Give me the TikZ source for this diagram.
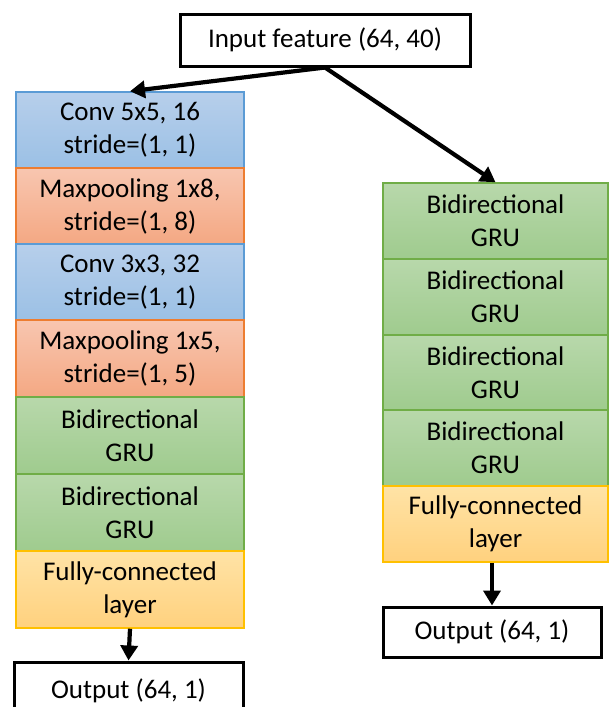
\documentclass[tikz,border=0pt]{standalone}
\usepackage{fontspec}
\setmainfont{Carlito}
\usetikzlibrary{arrows.meta}
\definecolor{bluetop}{HTML}{B7CFEB}
\definecolor{bluebot}{HTML}{9BC0E5}
\definecolor{blueedge}{HTML}{5B9BD5}
\definecolor{orgtop}{HTML}{F8C6B0}
\definecolor{orgbot}{HTML}{F4A883}
\definecolor{orgedge}{HTML}{ED7D31}
\definecolor{grntop}{HTML}{B8D8AB}
\definecolor{grnbot}{HTML}{9FCB8E}
\definecolor{grnedge}{HTML}{70AD47}
\definecolor{ylwtop}{HTML}{FFE3A6}
\definecolor{ylwbot}{HTML}{FFD17E}
\definecolor{ylwedge}{HTML}{FFC000}
\tikzset{
  layer/.style={rectangle, inner sep=0pt, align=center, line width=1.5pt,
    font=\fontsize{27}{33}\selectfont},
  convbox/.style={layer, top color=bluetop, bottom color=bluebot, draw=blueedge},
  poolbox/.style={layer, top color=orgtop, bottom color=orgbot, draw=orgedge},
  grubox/.style={layer, top color=grntop, bottom color=grnbot, draw=grnedge},
  fcbox/.style={layer, top color=ylwtop, bottom color=ylwbot, draw=ylwedge},
  iobox/.style={rectangle, inner sep=0pt, align=center, draw=black, fill=white,
    line width=3pt, font=\fontsize{27}{33}\selectfont},
  arr/.style={line width=4.2pt, -{Triangle[length=15pt,width=17pt]}}
}
\begin{document}
\begin{tikzpicture}[x=1pt,y=-1pt]
\useasboundingbox (0,0) rectangle (608,707);
% input
\node[iobox, minimum width=290pt, minimum height=52pt] (inp) at (325,40) {Input feature (64, 40)};
% left column
\node[convbox, minimum width=228pt, minimum height=76pt] (c1) at (130,130) {Conv 5x5, 16\\stride=(1, 1)};
\node[poolbox, minimum width=228pt, minimum height=76pt] (p1) at (130,206) {Maxpooling 1x8,\\stride=(1, 8)};
\node[convbox, minimum width=228pt, minimum height=76pt] (c2) at (130,282) {Conv 3x3, 32\\stride=(1, 1)};
\node[poolbox, minimum width=228pt, minimum height=77pt] (p2) at (130,358.5) {Maxpooling 1x5,\\stride=(1, 5)};
\node[grubox, minimum width=228pt, minimum height=77pt] (lg1) at (130,435.5) {Bidirectional\\GRU};
\node[grubox, minimum width=228pt, minimum height=77pt] (lg2) at (130,512.5) {Bidirectional\\GRU};
\node[fcbox, minimum width=228pt, minimum height=77pt] (lfc) at (130,589.5) {Fully-connected\\layer};
\node[iobox, minimum width=229pt, minimum height=58pt] (lout) at (128.5,691) {Output (64, 1)};
% right column
\node[grubox, minimum width=225pt, minimum height=76pt] (rg1) at (495.5,221) {Bidirectional\\GRU};
\node[grubox, minimum width=225pt, minimum height=76pt] (rg2) at (495.5,297) {Bidirectional\\GRU};
\node[grubox, minimum width=225pt, minimum height=75pt] (rg3) at (495.5,372.5) {Bidirectional\\GRU};
\node[grubox, minimum width=225pt, minimum height=76pt] (rg4) at (495.5,448) {Bidirectional\\GRU};
\node[fcbox, minimum width=225pt, minimum height=76pt] (rfc) at (495.5,524) {Fully-connected\\layer};
\node[iobox, minimum width=218pt, minimum height=50pt] (rout) at (492,632) {Output (64, 1)};
% arrows
\draw[arr] (inp.south) -- (c1.north);
\draw[arr] (inp.south) -- (rg1.north);
\draw[arr] (lfc.south) -- (lout.north);
\draw[arr] (rfc.south -| rout.north) -- (rout.north);
\end{tikzpicture}
\end{document}
